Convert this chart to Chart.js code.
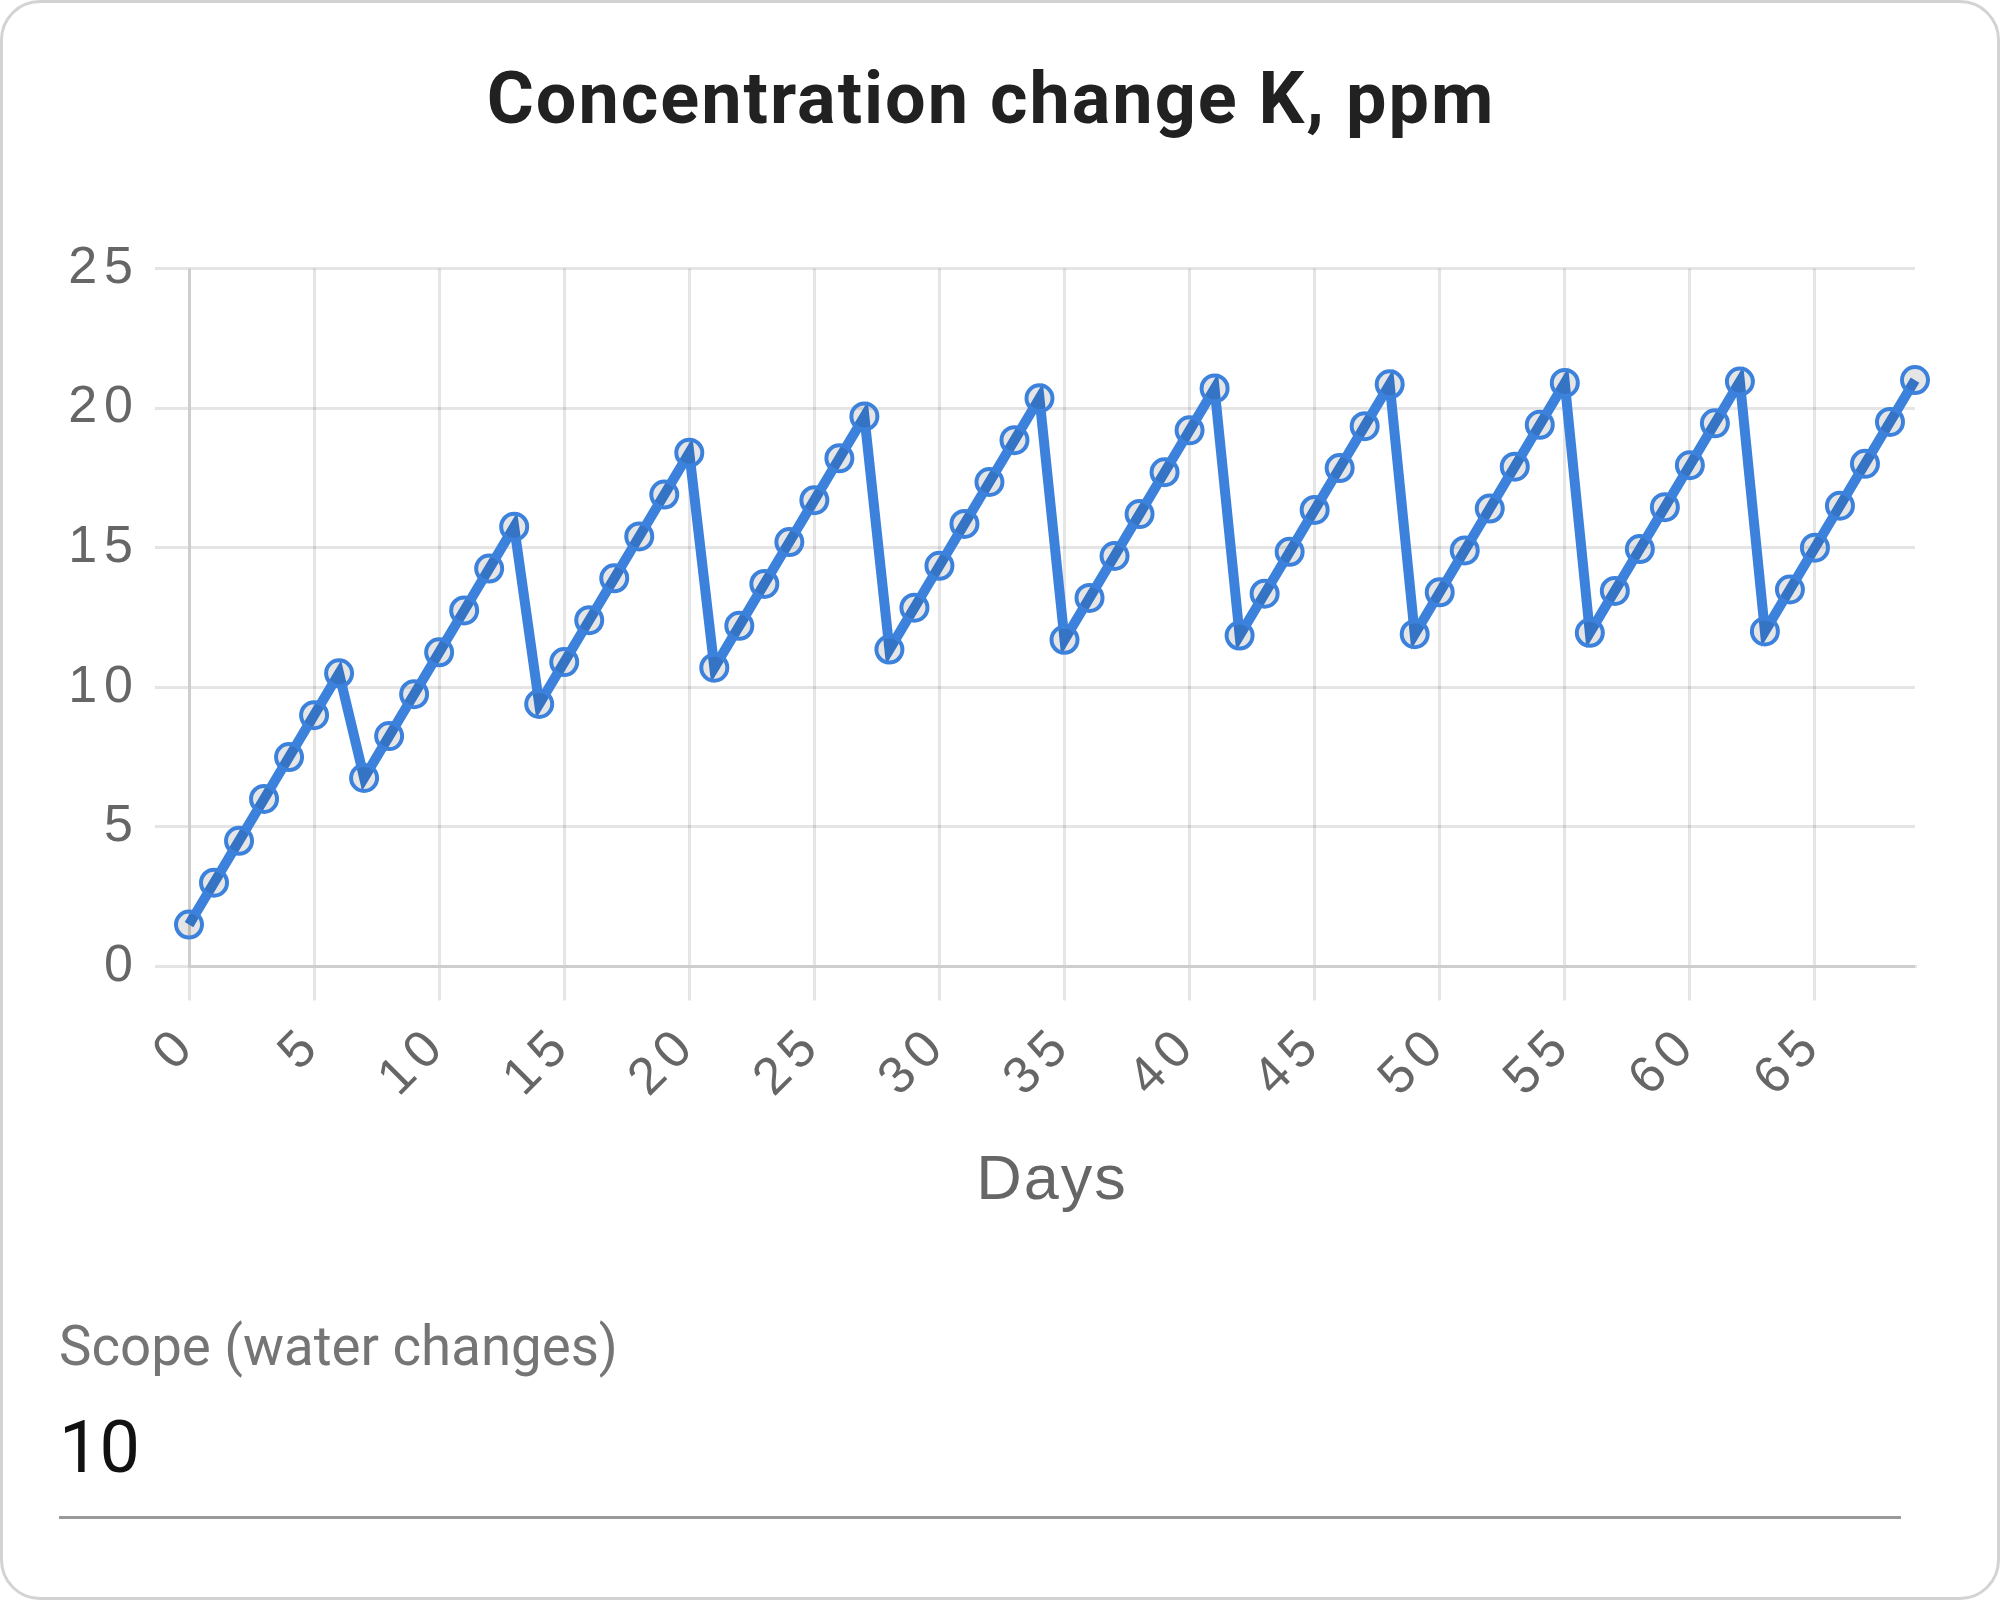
<!DOCTYPE html>
<html>
<head>
<meta charset="utf-8">
<script src="https://cdn.jsdelivr.net/npm/chart.js@4"></script>
<style>
  html, body { margin: 0; padding: 0; background: #fff; }
  body { width: 2000px; height: 1600px; position: relative; overflow: hidden; font-family: Roboto, sans-serif; }
  #card {
    position: absolute; left: 0; top: 0; width: 2000px; height: 1600px;
    box-sizing: border-box; border: 3px solid #d3d3d3; border-radius: 40px;
  }
  #chart_box { position: absolute; left: 0; top: 0; width: 2000px; height: 1260px; }
  #scope_label {
    position: absolute; left: 59px; top: 1319px; font-size: 54.6px; line-height: 1;
    color: #757575; white-space: nowrap;
  }
  #scope_value {
    position: absolute; left: 59px; top: 1412px; font-size: 72px; line-height: 1;
    color: #111; white-space: nowrap;
  }
  #scope_line {
    position: absolute; left: 59px; top: 1516px; width: 1842px; height: 3px; background: #9a9a9a;
  }
</style>
</head>
<body>
<div id="card"></div>
<div id="chart_box"><canvas id="myChart"></canvas></div>
<div id="scope_label">Scope (water changes)</div>
<div id="scope_value">10</div>
<div id="scope_line"></div>

<script>
'use strict';

const chartTitle = 'Concentration change K, ppm';
const xTitle = 'Days';

// days 0..69
const days = [];
for (let d = 0; d < 70; d++) {
  days.push(String(d));
}

// K concentration, one value per day
const concentration = [
  1.5, 3.0, 4.5, 6.0, 7.5, 9.0, 10.5,
  6.75, 8.25, 9.75, 11.25, 12.75, 14.25, 15.75,
  9.4, 10.9, 12.4, 13.9, 15.4, 16.9, 18.4,
  10.7, 12.2, 13.7, 15.2, 16.7, 18.2, 19.7,
  11.35, 12.85, 14.35, 15.85, 17.35, 18.85, 20.35,
  11.7, 13.2, 14.7, 16.2, 17.7, 19.2, 20.7,
  11.85, 13.35, 14.85, 16.35, 17.85, 19.35, 20.85,
  11.9, 13.4, 14.9, 16.4, 17.9, 19.4, 20.9,
  11.95, 13.45, 14.95, 16.45, 17.95, 19.45, 20.95,
  12.0, 13.5, 15.0, 16.5, 18.0, 19.5, 21.0
];

const yTicks = [0, 5, 10, 15, 20, 25];

const blue = 'rgb(60, 130, 220)';
const gridColor = 'rgba(0, 0, 0, 0.1)';
const tickFont = { family: '"Liberation Sans", Arial, sans-serif', size: 52 };

// the tick numbers in the picture are spaced wider than the titles
const spacingPlugin = {
  id: 'spacing',
  beforeLayout(chart) { chart.ctx.letterSpacing = '7px'; },
  beforeDraw(chart) { chart.ctx.letterSpacing = '2px'; },
  afterDatasetsDraw(chart) { chart.ctx.letterSpacing = '7px'; }
};

const ctx = document.getElementById('myChart').getContext('2d');
const myChart = new Chart(ctx, {
  type: 'line',
  data: {
    labels: days,
    datasets: [{
      label: 'K',
      data: concentration,
      borderColor: blue,
      borderWidth: 10,
      backgroundColor: 'rgba(0, 0, 0, 0.1)',
      pointRadius: 13,
      pointBorderWidth: 4,
      pointBorderColor: blue,
      pointBackgroundColor: 'rgba(0, 0, 0, 0.1)',
      tension: 0
    }]
  },
  plugins: [spacingPlugin],
  options: {
    responsive: true,
    maintainAspectRatio: false,
    animation: false,
    layout: {
      padding: { left: 67, right: 85, top: 0, bottom: 41 }
    },
    plugins: {
      legend: { display: false },
      tooltip: { enabled: false },
      title: {
        display: true,
        text: chartTitle,
        color: '#212121',
        font: { family: 'Roboto, sans-serif', size: 72, weight: 'bold' },
        padding: { top: 62, bottom: 120 }
      }
    },
    scales: {
      x: {
        grid: { color: gridColor, lineWidth: 3, tickLength: 34 },
        border: { color: gridColor, width: 3 },
        ticks: {
          autoSkip: false,
          minRotation: 45,
          maxRotation: 45,
          padding: 14,
          z: 1,
          color: '#666',
          font: tickFont,
          callback: function (val, i) {
            return i % 5 === 0 ? days[i] : null;
          }
        },
        title: {
          display: true,
          text: xTitle,
          color: '#666',
          font: { family: '"Liberation Sans", Arial, sans-serif', size: 63 },
          padding: { top: 20, bottom: 0 }
        }
      },
      y: {
        min: yTicks[0],
        max: yTicks[yTicks.length - 1],
        grid: { color: gridColor, lineWidth: 3, tickLength: 34 },
        border: { color: gridColor, width: 3 },
        afterBuildTicks: function (axis) {
          axis.ticks = yTicks.map(v => ({ value: v }));
        },
        afterFit: function (axis) {
          axis.width = 122;
        },
        ticks: {
          padding: 15,
          z: 1,
          color: '#666',
          font: tickFont
        }
      }
    }
  }
});
</script>
</body>
</html>
